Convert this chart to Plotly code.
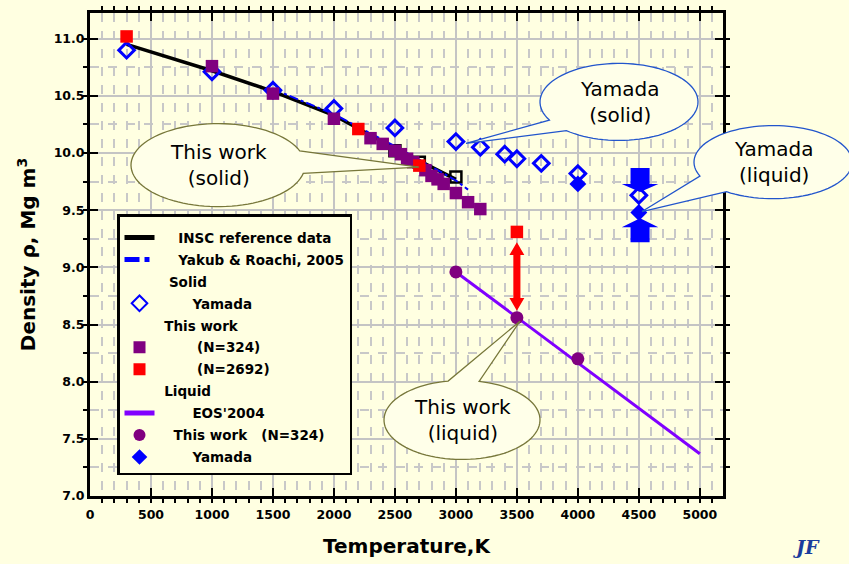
import math
import plotly.graph_objects as go

# ---------------- data ----------------
insc_T = [300, 1000, 1500, 2000, 2500, 3000]
insc_rho = [10.95, 10.72, 10.54, 10.33, 10.04, 9.77]
insc_pts_T = [2500, 2700, 3000]
insc_pts_rho = [10.02, 9.92, 9.79]
yakub_T = [1500, 2000, 2500, 3000, 3100]
yakub_rho = [10.56, 10.34, 10.06, 9.76, 9.68]
yamada_s_T = [300, 1000, 1500, 2000, 2500, 3000, 3200, 3400, 3500, 3700, 4000, 4500]
yamada_s_rho = [10.90, 10.71, 10.55, 10.39, 10.22, 10.10, 10.05, 9.99, 9.95, 9.91, 9.82, 9.63]
tw324_s_T = [1000, 1500, 2000, 2300, 2400, 2500, 2550, 2600, 2650, 2750, 2800, 2850, 2900, 3000, 3100, 3200]
tw324_s_rho = [10.76, 10.52, 10.30, 10.13, 10.08, 10.02, 9.99, 9.95, 9.92, 9.85, 9.80, 9.77, 9.73, 9.65, 9.57, 9.51]
tw2692_T = [300, 2200, 2700, 3500]
tw2692_rho = [11.02, 10.21, 9.89, 9.31]
eos_T = [3000, 5000]
eos_rho = [8.96, 7.37]
tw324_l_T = [3000, 3500, 4000]
tw324_l_rho = [8.96, 8.56, 8.20]
yamada_l_T = [4000, 4500]
yamada_l_rho = [9.73, 9.48]

x_ticks = [0, 500, 1000, 1500, 2000, 2500, 3000, 3500, 4000, 4500, 5000]
y_ticks = [7.0, 7.5, 8.0, 8.5, 9.0, 9.5, 10.0, 10.5, 11.0]

# ---------------- layout geometry ----------------
W_PX, H_PX = 849, 564
L, R, T, B = 90, 723, 10, 499
XR = [0, 5190]
YR = [7.0, 11.225]
BG = "#FFFFE1"
FONT = "DejaVu Sans"
NB = "\u00a0"


def pp(px, py):
    return ((px - L) / (R - L), (B - py) / (B - T))


def callout_path(cx, cy, rx, ry, a, b, ax, ay, n=90):
    pts = []
    for i in range(n + 1):
        t = b + (a + 2 * math.pi - b) * i / n
        pts.append(pp(cx + rx * math.cos(t), cy + ry * math.sin(t)))
    pts.append(pp(ax, ay))
    return "M " + " L ".join(f"{x:.5f},{y:.5f}" for x, y in pts) + " Z"


fig = go.Figure()

hidden = dict(size=1, color="rgba(0,0,0,0)")

fig.add_trace(go.Scatter(x=insc_T, y=insc_rho, mode="lines", name=NB * 4 + "INSC reference data",
                         line=dict(color="black", width=3.5), legendrank=1, legendgroup="g1"))
fig.add_trace(go.Scatter(x=insc_pts_T, y=insc_pts_rho, mode="markers", showlegend=False,
                         marker=dict(symbol="square-open", size=11, color="black", line=dict(width=2.5))))
fig.add_trace(go.Scatter(x=yakub_T, y=yakub_rho, mode="lines", name=NB * 4 + "Yakub & Roachi, 2005",
                         line=dict(color="#0000FF", width=2, dash="dashdot"), legendrank=2, legendgroup="g2"))
fig.add_trace(go.Scatter(x=[None], y=[None], mode="markers", name=NB * 2 + "Solid",
                         marker=hidden, legendrank=3, legendgroup="g3"))
fig.add_trace(go.Scatter(x=yamada_s_T, y=yamada_s_rho, mode="markers", name=NB * 7 + "Yamada",
                         marker=dict(symbol="diamond-open", size=12, color="#0000FF", line=dict(width=3)),
                         legendrank=4, legendgroup="g4"))
fig.add_trace(go.Scatter(x=[None], y=[None], mode="markers", name=NB * 1 + "This work",
                         marker=hidden, legendrank=5, legendgroup="g5"))
fig.add_trace(go.Scatter(x=tw324_s_T, y=tw324_s_rho, mode="markers", name=NB * 8 + "(N=324)",
                         marker=dict(symbol="square", size=12.5, color="#800080"), legendrank=6, legendgroup="g6"))
fig.add_trace(go.Scatter(x=tw2692_T, y=tw2692_rho, mode="markers", name=NB * 8 + "(N=2692)",
                         marker=dict(symbol="square", size=12.5, color="#FF0000"), legendrank=7, legendgroup="g7"))
fig.add_trace(go.Scatter(x=[None], y=[None], mode="markers", name=NB * 1 + "Liquid",
                         marker=hidden, legendrank=8, legendgroup="g8"))
fig.add_trace(go.Scatter(x=eos_T, y=eos_rho, mode="lines", name=NB * 7 + "EOS'2004",
                         line=dict(color="#8000FF", width=3), legendrank=9, legendgroup="g9"))
fig.add_trace(go.Scatter(x=tw324_l_T, y=tw324_l_rho, mode="markers",
                         name=NB * 3 + "This work" + NB * 3 + "(N=324)",
                         marker=dict(symbol="circle", size=13, color="#800080"), legendrank=10, legendgroup="g10"))
fig.add_trace(go.Scatter(x=yamada_l_T, y=yamada_l_rho, mode="markers", name=NB * 7 + "Yamada",
                         marker=dict(symbol="diamond", size=13, color="#0000FF"), legendrank=11, legendgroup="g11"))

shapes = []
# red double arrow at 3500 K (between solid and liquid)
xs = 3500
hw, hh, sw = 61, 0.112, 29
top, bot = 9.22, 8.62
red_path = (f"M {xs},{top} L {xs+hw},{top-hh} L {xs+sw},{top-hh} L {xs+sw},{bot+hh} L {xs+hw},{bot+hh} "
            f"L {xs},{bot} L {xs-hw},{bot+hh} L {xs-sw},{bot+hh} L {xs-sw},{top-hh} L {xs-hw},{top-hh} Z")
shapes.append(dict(type="path", xref="x", yref="y", path=red_path, fillcolor="#FF0000",
                   line=dict(width=0), layer="above"))
# blue arrows at 4500 K
xb = 4510
bw, bh = 78, 150
down = (f"M {xb-bw},9.87 L {xb+bw},9.87 L {xb+bw},9.73 L {xb+bh},9.73 L {xb},9.66 "
        f"L {xb-bh},9.73 L {xb-bw},9.73 Z")
up = (f"M {xb-bw},9.22 L {xb+bw},9.22 L {xb+bw},9.35 L {xb+bh},9.35 L {xb},9.43 "
      f"L {xb-bh},9.35 L {xb-bw},9.35 Z")
for p in (down, up):
    shapes.append(dict(type="path", xref="x", yref="y", path=p, fillcolor="#0000FF",
                       line=dict(width=0), layer="above"))

# callouts
FILL = "#FFFFE9"
OLIVE = "#77773A"
BLUE = "#2255CC"
callouts = [
    (218, 164, 87, 42, -0.35, 0.2, 419, 166, OLIVE, "This work<br>(solid)"),
    (619, 100, 79, 39, 2.3, 2.65, 466, 142, BLUE, "Yamada<br>(solid)"),
    (462, 422, 78, 40, -1.75, -1.35, 520, 322, OLIVE, "This work<br>(liquid)"),
    (773, 161, 79, 37, 2.2, 2.75, 642, 211, BLUE, "Yamada<br>(liquid)"),
]
annotations = []
for cx, cy, rx, ry, a, b, ax, ay, col, txt in callouts:
    shapes.append(dict(type="path", xref="paper", yref="paper",
                       path=callout_path(cx, cy, rx, ry, a, b, ax, ay),
                       fillcolor=FILL, line=dict(color=col, width=1.3), layer="above"))
    px_, py_ = pp(cx, cy)
    annotations.append(dict(x=px_, y=py_, xref="paper", yref="paper", text=txt, showarrow=False,
                            xanchor="center", yanchor="middle",
                            font=dict(family=FONT, size=20, color="black"), align="center"))

# logo fragment bottom-right
lx, ly = pp(806, 564)
annotations.append(dict(x=lx, y=ly, xref="paper", yref="paper", text="<i><b>JF</b></i>", showarrow=False,
                        xanchor="center", yanchor="bottom",
                        font=dict(family="DejaVu Serif", size=19, color="#1A3C9C")))

axis_common = dict(showline=True, linewidth=3, linecolor="black", mirror="allticks",
                   ticks="inside", tickwidth=2, ticklen=8, tickcolor="black",
                   showgrid=True, gridcolor="#C4C4C4", gridwidth=2, zeroline=False,
                   tickfont=dict(family=FONT, size=12.5, color="black", weight="bold"))

title_font = dict(family=FONT, size=20, color="black", weight="bold")

fig.update_layout(
    width=W_PX, height=H_PX,
    margin=dict(l=L, r=W_PX - R, t=T, b=H_PX - B),
    paper_bgcolor=BG, plot_bgcolor=BG,
    xaxis=dict(range=XR, tickvals=x_ticks, ticktext=[str(v) for v in x_ticks],
               ticklabelstandoff=5,
               minor=dict(dtick=100, tick0=0, ticklen=4, tickwidth=1.5, tickcolor="black",
                          showgrid=True, gridcolor="#C8C8C8", gridwidth=1.5, griddash="dash"),
               title=dict(text="Temperature,K", standoff=18, font=title_font),
               **axis_common),
    yaxis=dict(range=YR, tickvals=y_ticks, ticktext=[f"{v:.1f}" for v in y_ticks],
               minor=dict(dtick=0.25, tick0=7.0, ticklen=4, tickwidth=1.5, tickcolor="black",
                          showgrid=True, gridcolor="#C8C8C8", gridwidth=1.5, griddash="dash"),
               title=dict(text="Density ρ, Mg m<sup>3</sup>", standoff=13, font=title_font),
               **axis_common),
    legend=dict(x=pp(117, 0)[0], y=pp(0, 214)[1], xanchor="left", yanchor="top",
                bgcolor=BG, bordercolor="black", borderwidth=2.5,
                font=dict(family=FONT, size=13.5, color="black", weight="bold"),
                title=dict(text=NB, font=dict(size=4)),
                tracegroupgap=1.4, itemsizing="constant", traceorder="grouped"),
    shapes=shapes,
    annotations=annotations,
)

fig.write_html("out.html")
